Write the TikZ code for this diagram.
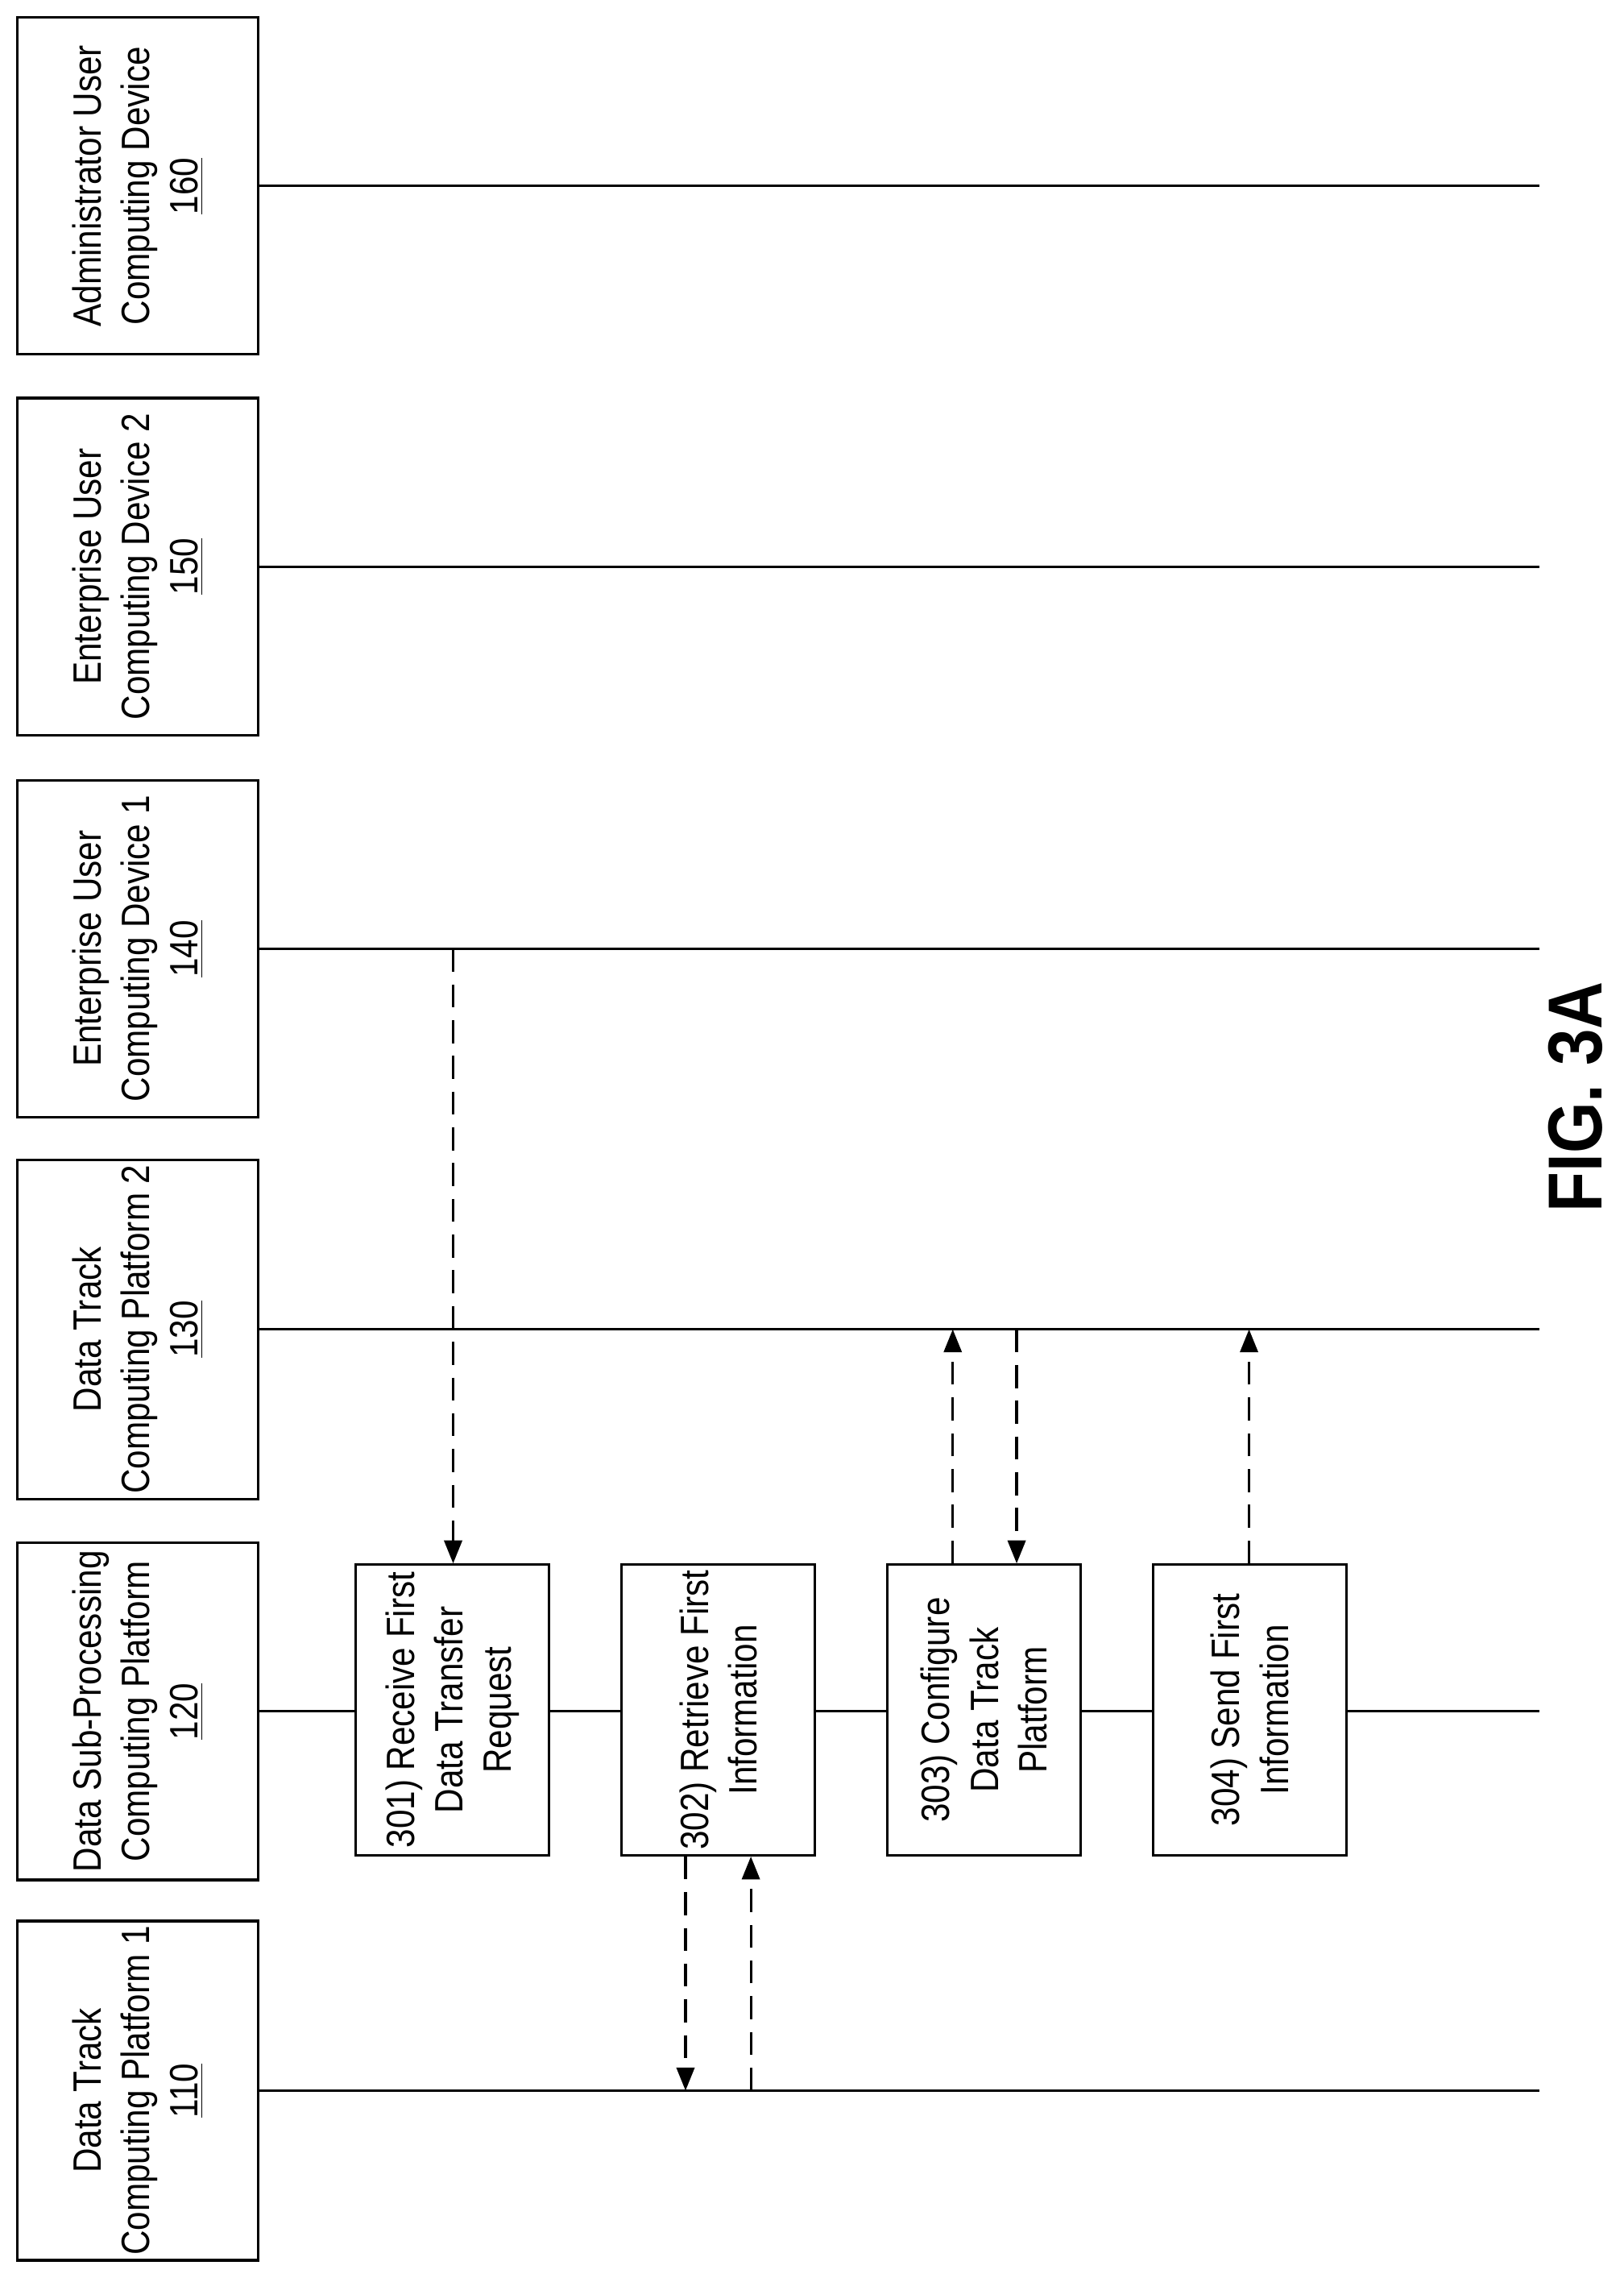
\documentclass[tikz,border=0pt]{standalone}
\usepackage{fontspec}
\setmainfont{Liberation Sans}[FakeStretch=0.86]
\usetikzlibrary{arrows.meta}
\begin{document}
\begin{tikzpicture}[x=0.02cm,y=-0.02cm,line width=1pt,
    entity/.style={draw,rotate=90,align=center,minimum width=4.64cm,minimum height=3.32cm,inner sep=2pt,font=\fontsize{15.5}{19}\selectfont},
    stepbox/.style={draw,rotate=90,align=center,minimum width=4cm,minimum height=2.66cm,inner sep=2pt,font=\fontsize{15.5}{19}\selectfont},
    msg/.style={dash pattern=on 9pt off 5pt,-{Triangle[length=9pt,width=7pt]}}]
    \useasboundingbox (0,0) rectangle (1118,1568);

    % Entities
    \node[entity] (e160) at (95,128) {Administrator User\\Computing Device\\\underline{160}};
    \node[entity] (e150) at (95,390) {Enterprise User\\Computing Device 2\\\underline{150}};
    \node[entity] (e140) at (95,653) {Enterprise User\\Computing Device 1\\\underline{140}};
    \node[entity] (e130) at (95,915) {Data Track\\Computing Platform 2\\\underline{130}};
    \node[entity] (e120) at (95,1178) {Data Sub-Processing\\Computing Platform\\\underline{120}};
    \node[entity] (e110) at (95,1439) {Data Track\\Computing Platform 1\\\underline{110}};

    % Lifelines
    \foreach \n/\y in {160/128,150/390,140/653,130/915,120/1178,110/1439}
        \draw (e\n.south) -- (1060,\y) coordinate (end\n);

    % Steps
    \node[stepbox,fill=white] (s301) at (311.5,1177) {301) Receive First\\Data Transfer\\Request};
    \node[stepbox,fill=white] (s302) at (494.5,1177) {302) Retrieve First\\Information};
    \node[stepbox,fill=white] (s303) at (677.5,1177) {303) Configure\\Data Track\\Platform};
    \node[stepbox,fill=white] (s304) at (860.5,1177) {304) Send First\\Information};

    % Messages
    \coordinate (m1) at (312,653);
    \coordinate (m2) at (472,1439);
    \coordinate (m3) at (517,1439);
    \coordinate (m4) at (656,915);
    \coordinate (m5) at (700,915);
    \coordinate (m6) at (860,915);
    \draw[msg] (m1) -- (m1 |- s301.east);
    \draw[msg] (m2 |- s302.west) -- (m2);
    \draw[msg] (m3) -- (m3 |- s302.west);
    \draw[msg] (m4 |- s303.east) -- (m4);
    \draw[msg] (m5) -- (m5 |- s303.east);
    \draw[msg] (m6 |- s304.east) -- (m6);

    \node[rotate=90,font=\fontsize{30}{36}\selectfont\bfseries] (fig) at (1085,755) {FIG. 3A};
\end{tikzpicture}
\end{document}
